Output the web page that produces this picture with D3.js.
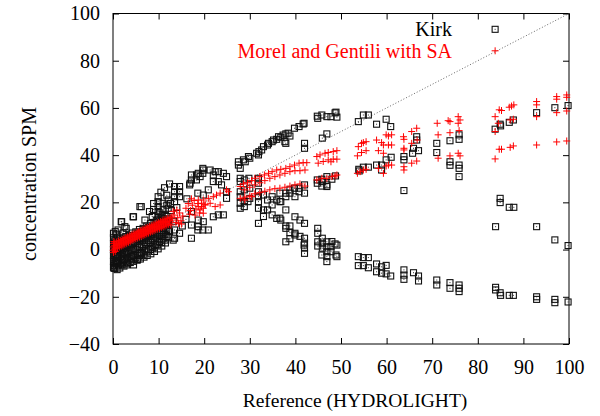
<!DOCTYPE html>
<html>
<head>
<meta charset="utf-8">
<script src="https://cdn.jsdelivr.net/npm/d3@7"></script>
<style>
  body { margin: 0; background: #fff; }
  svg text { font-family: "Liberation Serif", "DejaVu Serif", serif; }
</style>
</head>
<body>
<div id="vis"></div>
<script>
// tick values
const xTicks = [0, 10, 20, 30, 40, 50, 60, 70, 80, 90, 100];
const yTicks = [-40, -20, 0, 20, 40, 60, 80, 100];
const seriesNames = ["Kirk", "Morel and Gentili with SA"];

// Kirk (black squares), [reference, estimate]
const kirk = [
  // dense wedge, 0-12
  [0.1,-7.5],[0.1,-5],[0.1,-2.5],[0.1,0],[0.1,2.5],[0.1,5],
  [0.4,-8],[0.4,-6],[0.4,-3.5],[0.4,-1],[0.4,1.5],[0.4,4],
  [0.8,-7],[0.8,-4.5],[0.8,-2],[0.8,0.5],[0.8,3],[0.8,6.5],
  [1.2,-6.5],[1.2,-4],[1.2,-1.5],[1.2,1],[1.2,3.5],
  [1.6,-6],[1.6,-3],[1.6,-0.5],[1.6,2],[1.6,4.5],
  [2.2,-5.5],[2.2,-3],[2.2,0],[2.2,2.5],[2.2,5],[2.2,7],
  [2.8,-5],[2.8,-2],[2.8,0.5],[2.8,3],[2.8,5.5],
  [3.5,-4.5],[3.5,-1.5],[3.5,1],[3.5,3.5],[3.5,6],
  [4.2,-4],[4.2,-1],[4.2,2],[4.2,4.5],[4.2,7],
  [5,-3.5],[5,0],[5,2.5],[5,5],[5,7.5],
  [5.8,-2.5],[5.8,1],[5.8,3.5],[5.8,6],[5.8,8.5],
  [6.6,-2],[6.6,1.5],[6.6,4],[6.6,6.5],[6.6,9],
  [7.4,-1],[7.4,2],[7.4,5],[7.4,7.5],[7.4,10],
  [8.2,0],[8.2,3],[8.2,6],[8.2,8.5],[8.2,11],
  [9,1],[9,4],[9,6.5],[9,9],[9,11.5],
  [9.8,2],[9.8,4.5],[9.8,7],[9.8,10],[9.8,12.5],
  [10.6,3],[10.6,5.5],[10.6,8],[10.6,11],[10.6,13.5],
  [11.4,4],[11.4,6.5],[11.4,9],[11.4,12],[11.4,14.5],
  [12.2,5],[12.2,8],[12.2,10.5],[12.2,13],
  [0.25,-6.8],[0.25,-4.2],[0.25,-1.8],[0.25,0.8],[0.25,3.2],
  [0.6,-5.5],[0.6,-2.8],[0.6,-0.2],[0.6,2.2],
  [1.0,-5.2],[1.0,-2.8],[1.0,-0.3],[1.0,2.2],[1.0,4.8],
  [1.9,-4.5],[1.9,-1.8],[1.9,0.8],[1.9,3.3],
  [2.5,-4.2],[2.5,-1.2],[2.5,1.5],[2.5,4],
  [3.1,-3.6],[3.1,-0.8],[3.1,2],[3.1,4.5],
  [3.9,-3],[3.9,-0.2],[3.9,2.5],[3.9,5.2],
  [4.6,-2.5],[4.6,0.5],[4.6,3.3],[4.6,6],
  [5.4,-1.8],[5.4,1.5],[5.4,4.3],[5.4,7],
  [6.2,-1.2],[6.2,2.2],[6.2,5],[6.2,7.5],
  [7.0,-0.5],[7.0,3],[7.0,6],[7.0,8.5],
  [7.8,0.2],[7.8,3.8],[7.8,6.8],[7.8,9.3],
  [8.6,1.2],[8.6,4.6],[8.6,7.5],[8.6,10],
  [9.4,2.2],[9.4,5.3],[9.4,8.2],[9.4,10.8],
  [10.2,3.4],[10.2,6.3],[10.2,9.2],[10.2,12],
  [11.0,4.6],[11.0,7.4],[11.0,10.2],[11.0,13],
  [11.8,5.5],[11.8,8.5],[11.8,11],[11.8,14],
  // lower edge of the wedge
  [0.9,-8.5],[1.5,-7.8],[2.4,-7],[3.0,-6.5],[3.8,-5.5],[4.5,-5],[5.3,-4.5],[6.0,-4],
  [6.8,-3.2],[7.5,-2.5],[8.3,-1.8],[9.1,-0.8],[9.9,0.3],[10.7,1.5],[11.5,2.8],
  // scattered around the wedge
  [0.2,-7.9],[2.0,-6.5],[3.2,-5.8],[4.4,-2.3],[6.2,-1.6],[5.4,-4.2],[4.1,-3.0],
  [5.9,-1.6],[4.5,-6.5],[0.1,6.9],[2.6,9.7],[1.9,11.8],[5.9,18.2],[4.5,13.9],
  [0.5,7.6],[1.1,8.3],[2.9,9.0],[1.8,11.8],[4.4,13.9],[6.2,18.2],[8.0,16.1],
  [7.0,12.5],[8.6,14.0],[12.4,7.6],[13.5,8.3],[13.5,4.8],[14.6,6.9],[15.2,10.0],[13.2,4.0],
  [9.9,22.4],[9.9,20.3],[9.9,18.2],[9.9,16.1],[9.9,13.9],[11.0,19.6],[11.0,16.8],
  [12.1,21.0],[12.1,17.5],[10.5,24.3],[11.3,26.2],[12.4,27.8],[11.8,23.0],
  [13.5,26.7],[14.6,26.7],[13.5,24.5],[14.6,24.5],[13.5,22.4],[14.6,22.4],[13.5,20.3],
  [8.9,19.5],[10.8,14.8],[8.9,17.0],[9.5,12.5],[10.3,15.5],[11.8,18.8],[12.8,16.5],
  [13.3,12.0],[14.0,17.8],[12.6,19.5],
  // 16-25
  [16.8,27.4],[16.9,28.1],[17.2,31.6],[17.2,29.5],[18.3,31.6],[18.3,29.5],[19.1,30.9],
  [19.7,34.4],[19.7,32.3],[18.7,32.3],[19.8,33.7],[21.3,33.7],[22.0,31.6],[22.4,33.0],
  [23.1,33.0],[24.2,32.3],[24.9,30.9],[18.6,23.9],[19.8,23.1],[20.9,25.3],[22.0,28.8],
  [23.1,28.8],[23.8,27.4],[24.9,24.5],[24.9,21.7],[17.2,16.1],[17.2,10.4],[17.2,4.8],
  [18.6,8.3],[19.7,8.3],[20.9,8.3],[18.7,12.5],[19.8,11.8],[22.0,13.9],[23.1,14.7],
  [24.2,14.7],[18.7,9.7],[16.2,21.5],[16.0,12.8],
  // 27-30
  [27.5,35.8],[27.5,37.2],[28.6,38.0],[29.7,39.4],[30.0,38.7],[29.0,37.2],[27.9,34.4],
  [27.9,30.2],[27.9,28.8],[28.8,29.5],[29.8,30.2],[27.9,24.5],[28.8,25.3],[30.0,26.0],
  [27.9,22.4],[27.9,19.6],[28.8,20.3],[28.8,18.2],[29.6,20.3],[30.0,21.7],[27.9,17.5],
  // 31-35
  [31.5,40.8],[32.0,41.5],[32.6,42.2],[33.0,43.6],[33.9,44.3],[34.1,45.0],[34.9,45.7],
  [35.2,46.4],[31.9,40.1],[31.9,30.2],[31.9,28.1],[31.9,24.5],[31.9,22.4],[31.9,20.3],
  [31.9,17.5],[33.0,23.1],[33.9,21.0],[33.0,16.8],[33.9,16.8],[34.9,22.4],[34.9,18.9],
  [31.9,11.1],[33.0,14.0],[34.9,14.7],
  // 36-42
  [35.9,46.7],[36.3,47.8],[36.8,47.6],[37.3,48.5],[37.9,49.0],[38.4,49.3],[38.8,48.1],
  [39.8,51.4],[40.8,52.1],[41.7,53.2],[41.9,53.5],[37.7,45.7],[37.9,45.0],[42.0,45.0],
  [42.0,42.9],[35.9,21.0],[36.8,20.3],[37.9,16.8],[37.9,23.9],[36.6,23.9],[37.9,22.4],
  [38.8,25.3],[38.8,23.9],[39.8,26.0],[40.8,26.0],[42.0,27.4],[42.0,23.9],[40.8,24.5],
  [39.9,22.4],[36.6,20.3],[35.9,13.2],[36.6,13.3],[36.8,12.5],[37.9,9.0],[37.9,10.0],
  [38.8,7.2],[38.8,10.0],[39.9,13.9],[41.0,12.5],[42.0,11.1],[37.9,3.3],[38.8,4.6],
  [39.9,6.9],[39.9,6.2],[41.0,5.6],[42.0,4.8],[42.0,2.7],[41.9,1.9],[42.0,0.6],[42.0,-1.6],
  // 44-49
  [44.9,55.6],[44.8,56.5],[45.8,57.0],[46.9,56.3],[47.8,56.3],[48.9,58.2],[49.1,56.1],
  [48.7,57.9],[46.9,49.0],[45.9,47.2],[44.8,29.5],[44.8,28.1],[45.8,26.9],[46.9,27.4],
  [48.0,29.8],[45.8,29.8],[46.9,26.7],[45.9,28.8],[46.9,30.9],[48.8,31.2],
  [44.9,9.0],[44.9,6.9],[44.9,3.3],[44.9,1.5],[45.9,4.8],[45.9,2.7],[45.9,0.6],
  [46.9,3.3],[46.9,1.2],[46.9,-0.9],[46.9,-3.0],[46.9,-5.1],[47.8,1.2],[47.8,-0.9],
  [49.1,1.9],[49.1,-3.0],[48.7,2.4],[48.0,3.4],[48.9,-2.3],[45.8,-2.3],
  // 53-61
  [53.8,54.2],[54.9,57.0],[56.0,57.0],[57.8,53.1],[59.9,55.2],[60.9,52.1],
  [53.9,34.0],[54.9,34.9],[56.0,34.9],[54.0,33.3],[57.8,35.8],[58.9,35.8],[58.9,33.7],
  [59.9,38.0],[61.0,39.1],
  [53.8,-3.0],[54.9,-3.4],[56.0,-3.4],[53.8,-6.8],[54.9,-6.8],[56.0,-7.7],[57.8,-6.1],
  [58.9,-7.3],[59.9,-6.7],[57.8,-9.4],[58.9,-10.0],[59.9,-10.3],[60.9,-11.2],
  // 63-76
  [66.6,47.8],[66.6,46.4],[65.9,42.9],[67.0,41.9],[65.7,40.8],[63.8,39.4],[63.8,38.0],
  [63.8,25.0],[63.8,-8.6],[63.8,-10.8],[63.8,-12.6],[65.9,-9.8],[67.0,-11.2],[67.0,-13.3],
  [71.0,45.0],[71.0,41.1],[73.9,46.1],[73.9,37.2],[73.9,35.7],[75.9,48.6],[75.9,46.7],
  [75.9,35.8],[75.9,34.4],[75.9,30.9],[71.0,-12.9],[71.0,-15.0],[73.9,-14.0],[73.9,-16.4],
  [75.9,-15.0],[75.9,-16.4],[75.9,-17.8],
  // 83-100
  [83.8,93.3],[83.8,51.0],[84.9,53.1],[85.0,52.4],[86.9,53.9],[87.8,54.9],[92.9,58.0],
  [96.9,60.1],[99.8,61.0],[84.9,21.7],[84.9,19.9],[86.9,17.9],[87.9,17.9],[83.9,9.7],
  [92.9,9.7],[96.9,4.1],[99.8,1.7],[83.9,-16.0],[83.9,-17.1],[84.9,-18.3],[85.0,-19.4],
  [86.9,-19.4],[87.8,-19.4],[92.9,-20.0],[92.9,-21.1],[96.9,-21.1],[96.9,-22.5],[99.8,-22.2]
];

// Morel and Gentili with SA (red crosses)
const morel = [
  // dense band 0-12.5
  [0.05,-0.3],[0.1,1.1],[0.15,2.5],[0.3,0.2],[0.35,1.6],[0.4,2.8],[0.6,0.4],[0.7,1.8],
  [0.8,3.2],[1.0,0.8],[1.1,2.2],[1.2,3.6],[1.4,1.1],[1.5,2.5],[1.6,3.9],[1.8,1.5],
  [1.9,2.9],[2.0,4.3],[2.2,1.9],[2.3,3.3],[2.4,4.7],[2.6,2.3],[2.7,3.7],[2.8,5.1],
  [3.0,2.7],[3.1,4.1],[3.2,5.4],[3.4,3.1],[3.5,4.5],[3.6,5.8],[3.8,3.5],[3.9,4.9],
  [4.0,6.2],[4.2,3.9],[4.3,5.3],[4.4,6.6],[4.6,4.3],[4.7,5.6],[4.8,6.9],[5.0,4.6],
  [5.1,6.0],[5.2,7.3],[5.4,5.0],[5.5,6.3],[5.6,7.6],[5.8,5.3],[5.9,6.7],[6.0,8.0],
  [6.2,5.6],[6.3,7.0],[6.4,8.4],[6.6,6.0],[6.7,7.4],[6.8,8.7],[7.0,6.3],[7.1,7.7],
  [7.2,9.1],[7.4,6.7],[7.5,8.1],[7.6,9.4],[7.8,7.0],[7.9,8.4],[8.0,9.8],[8.2,7.4],
  [8.3,8.8],[8.4,10.1],[8.6,7.7],[8.7,9.1],[8.8,10.5],[9.0,8.0],[9.1,9.4],[9.2,10.8],
  [9.4,8.4],[9.5,9.8],[9.6,11.2],[9.8,8.7],[9.9,10.1],[10.0,11.5],[10.2,9.0],[10.3,10.5],
  [10.4,11.9],[10.6,9.4],[10.7,10.8],[10.8,12.2],[11.0,9.7],[11.1,11.2],[11.2,12.6],
  [11.4,10.0],[11.5,11.5],[11.6,12.9],[11.8,10.4],[11.9,11.9],[12.0,13.2],[12.2,10.7],
  [12.4,12.2],[12.5,13.5],[0.1,-1.2],[0.2,3.4],[0.5,-0.8],
  // 12.5-16
  [12.7,10.4],[13.0,12.5],[13.4,14.6],[13.8,11.5],[14.2,13.5],[14.6,15.5],[14.9,12.2],
  [15.3,14.2],[13.2,16.2],[14.0,16.8],[12.9,13.8],[15.0,10.8],[14.4,11.0],
  // 16-25
  [16.0,17.5],[16.5,19.5],[17.0,16.5],[17.4,18.8],[17.8,20.8],[18.2,17.2],[18.6,19.5],
  [19.0,15.5],[19.4,18.2],[19.8,21.0],[16.8,15.0],[18.0,14.6],[17.2,21.5],[20.2,19.0],
  [18.7,21.0],[19.4,19.6],[20.2,18.9],[19.1,16.8],[19.8,17.5],[20.9,21.7],[22.0,22.4],
  [22.7,23.1],[23.5,23.9],[21.3,19.6],[22.4,18.2],[23.5,18.9],[24.9,25.3],[25.3,24.5],
  [18.7,18.2],[19.8,15.4],
  // 28-42, upper branch
  [27.9,26.7],[28.6,27.8],[29.5,28.3],[30.4,29.2],[31.1,30.2],[32.2,30.9],[33.2,31.6],
  [34.1,32.3],[34.9,33.0],[35.9,33.7],[36.8,34.0],[37.9,34.4],[38.8,35.1],[39.8,35.8],
  [40.8,36.6],[41.7,36.8],[42.5,36.8],
  [28.9,25.3],[30.0,26.4],[31.1,27.4],[32.2,28.3],[33.3,29.2],[34.4,30.2],[35.5,30.9],
  [36.6,31.6],[37.7,32.3],[38.8,33.0],[39.9,33.4],[41.0,33.4],[42.1,33.7],
  // 28-42, lower branch
  [27.9,21.7],[28.9,22.2],[30.0,22.7],[31.1,23.6],[32.2,24.1],[33.3,24.7],[34.4,25.3],
  [35.5,25.8],[36.6,26.0],[37.7,26.4],[38.8,26.9],[39.9,27.4],[41.0,27.8],[42.1,26.9],
  [28.9,21.0],[30.4,22.4],
  // 44-49
  [44.7,39.4],[45.4,40.1],[46.5,40.8],[47.2,41.1],[48.3,41.5],[49.1,41.9],[45.0,36.6],
  [46.1,37.3],[47.2,38.0],[48.3,38.3],[49.1,38.3],[44.7,29.5],[45.8,30.2],[46.9,30.2],
  [48.0,30.9],[49.1,31.6],[47.8,37.2],[48.7,31.2],
  // 53-61
  [53.8,43.6],[54.5,45.0],[54.9,45.3],[55.5,45.7],[53.6,39.7],[54.5,41.1],[55.5,41.9],
  [53.6,32.3],[54.2,33.0],[54.9,33.7],[55.5,34.0],
  [57.8,46.4],[58.9,45.3],[59.3,44.3],[58.2,41.9],[59.3,40.8],[59.9,48.6],[60.4,48.1],
  [61.1,48.6],[60.4,44.3],[61.1,44.3],[58.2,34.4],[59.3,32.3],[59.9,35.4],[60.4,35.8],
  [61.1,35.8],
  // 63-76
  [63.7,47.8],[63.8,46.7],[63.8,42.9],[63.8,42.2],[63.8,35.1],[63.8,33.7],[65.5,50.0],
  [65.5,45.0],[66.6,51.4],[66.7,46.4],[65.5,36.6],[66.6,37.5],
  [71.1,53.5],[71.3,48.6],[71.3,38.7],[73.5,54.6],[73.9,54.2],[73.9,49.5],[73.9,39.7],
  [75.7,56.3],[76.1,54.9],[75.7,53.5],[75.9,50.4],[75.7,40.8],[76.1,39.7],
  // 83-100
  [83.8,84.2],[83.8,56.3],[83.8,50.0],[84.7,59.2],[85.2,58.9],[84.5,53.5],[86.9,60.3],
  [87.4,60.8],[87.9,61.3],[87.1,54.9],[87.8,55.2],[92.9,62.7],[92.9,61.3],[92.9,56.3],
  [97.3,64.8],[97.3,63.7],[97.3,58.0],[99.5,65.5],[99.5,64.5],[99.5,58.7],
  [83.8,38.4],[84.7,42.5],[85.2,42.5],[87.1,43.3],[87.8,43.9],[92.9,44.3],[97.3,45.6],
  [99.5,46.0]
];

const width = 600, height = 416;
const plot = {left: 113, right: 569, top: 13.5, bottom: 344};
const serif = '"Liberation Serif", "DejaVu Serif", serif';

const svg = d3.select("#vis").append("svg")
  .attr("width", width)
  .attr("height", height);

const x = d3.scaleLinear().domain([0, 100]).range([plot.left, plot.right]);
const y = d3.scaleLinear().domain([-40, 100]).range([plot.bottom, plot.top]);

//axes, ticks pointing inward on all four sides
const fontSize = 20;
function styleAxis(g) {
  g.attr("font-family", null).attr("font-size", null);
  g.select(".domain").remove();
  g.selectAll(".tick line").attr("stroke", "#000");
  g.selectAll(".tick text")
    .attr("fill", "#000")
    .style("font-family", serif)
    .style("font-size", fontSize + "px");
}

svg.append("g")
  .attr("transform", `translate(0, ${plot.bottom})`)
  .call(d3.axisBottom(x).tickValues(xTicks).tickSize(-6).tickPadding(16))
  .call(styleAxis);

svg.append("g")
  .attr("transform", `translate(0, ${plot.top})`)
  .call(d3.axisTop(x).tickValues(xTicks).tickSize(-6).tickFormat(""))
  .call(styleAxis);

svg.append("g")
  .attr("transform", `translate(${plot.left}, 0)`)
  .call(d3.axisLeft(y).tickValues(yTicks).tickSize(-6).tickPadding(13))
  .call(styleAxis);

svg.append("g")
  .attr("transform", `translate(${plot.right}, 0)`)
  .call(d3.axisRight(y).tickValues(yTicks).tickSize(-6).tickFormat(""))
  .call(styleAxis);

//frame
svg.append("rect")
  .attr("x", plot.left)
  .attr("y", plot.top)
  .attr("width", plot.right - plot.left)
  .attr("height", plot.bottom - plot.top)
  .attr("fill", "none")
  .attr("stroke", "#000")
  .attr("stroke-width", 1);

//1:1 line
svg.append("line")
  .attr("x1", x(0)).attr("y1", y(0))
  .attr("x2", x(100)).attr("y2", y(100))
  .attr("stroke", "#666")
  .attr("stroke-width", 1)
  .attr("stroke-dasharray", "1,2");

//Kirk squares with centre dot
const sq = svg.append("g").selectAll("g")
  .data(kirk)
  .join("g")
  .attr("transform", d => `translate(${x(d[0])}, ${y(d[1])})`);
sq.append("rect")
  .attr("x", -3).attr("y", -3)
  .attr("width", 6).attr("height", 6)
  .attr("fill", "none")
  .attr("stroke", "#111")
  .attr("stroke-width", 1.1);
sq.append("rect")
  .attr("x", -0.5).attr("y", -0.5)
  .attr("width", 1).attr("height", 1)
  .attr("fill", "#333");

//Morel crosses
svg.append("g").selectAll("path")
  .data(morel)
  .join("path")
  .attr("d", d => `M${x(d[0]) - 3.5},${y(d[1])}h7M${x(d[0])},${y(d[1]) - 3.5}v7`)
  .attr("stroke", "red")
  .attr("stroke-width", 1)
  .attr("fill", "none");

//legend, text only
svg.append("text")
  .attr("x", 452).attr("y", 35.5)
  .attr("text-anchor", "end")
  .style("font-size", "20px")
  .attr("fill", "#000")
  .text(seriesNames[0]);
svg.append("text")
  .attr("x", 452).attr("y", 58)
  .attr("text-anchor", "end")
  .style("font-size", "20px")
  .attr("fill", "red")
  .text(seriesNames[1]);

//axis titles
svg.append("text")
  .attr("x", 355)
  .attr("y", 407)
  .attr("text-anchor", "middle")
  .style("font-size", "19.5px")
  .text("Reference (HYDROLIGHT)");

svg.append("text")
  .attr("transform", `translate(36, 184) rotate(-90)`)
  .attr("text-anchor", "middle")
  .style("font-size", "20px")
  .text("concentration SPM");
</script>
</body>
</html>
